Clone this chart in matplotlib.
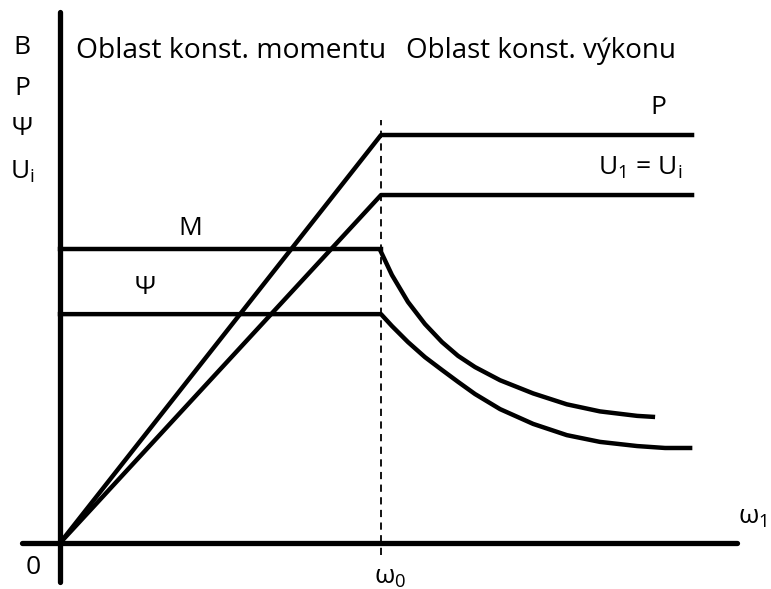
import matplotlib
matplotlib.use("Agg")
import matplotlib.pyplot as plt

plt.rcParams['font.family'] = ['Open Sans', 'DejaVu Sans']
plt.rcParams['mathtext.fontset'] = 'custom'
plt.rcParams['mathtext.rm'] = 'Open Sans'

# ---- data (x in units of omega_0, y in relative units) ----
omega0 = 1.0
x_end = 1.969
P_level = 1.271
U_level = 1.084
M_level = 0.916
Psi_level = 0.713

M_curve_x = [1.000, 1.034, 1.084, 1.137, 1.190, 1.240, 1.293, 1.371, 1.474,
             1.579, 1.682, 1.798, 1.847]
M_curve_y = [0.907, 0.835, 0.751, 0.682, 0.626, 0.583, 0.548, 0.507, 0.466,
             0.432, 0.410, 0.396, 0.393]
Psi_curve_x = [1.000, 1.034, 1.084, 1.137, 1.190, 1.240, 1.293, 1.371, 1.474,
               1.579, 1.682, 1.798, 1.885, 1.963]
Psi_curve_y = [0.713, 0.676, 0.626, 0.579, 0.539, 0.502, 0.464, 0.417, 0.371,
               0.336, 0.315, 0.302, 0.296, 0.296]

# ---- figure ----
W, H = 771, 589
fig = plt.figure(figsize=(W / 100, H / 100), dpi=100)
ax = fig.add_axes([0, 0, 1, 1])
X0, Y0, S = 60, 543, 321  # pixel origin and scale
ax.set_xlim((0 - X0) / S, (W - X0) / S)
ax.set_ylim((Y0 - H) / S, (Y0 - 0) / S)
ax.axis('off')

def P(px, py):
    return (px - X0) / S, (Y0 - py) / S

lw = 3.2
# axes
ax.plot([P(22, 0)[0], P(737, 0)[0]], [0, 0], color='black', lw=3.8, solid_capstyle='round')
ax.plot([0, 0], [P(0, 582)[1], P(0, 12)[1]], color='black', lw=3.8, solid_capstyle='round')
# dashed omega0
ax.plot([omega0, omega0], [P(0, 555)[1], P(0, 120)[1]], color='black', lw=1.3, dashes=(4, 3))

# P and U lines
ax.plot([0, omega0, x_end], [0, P_level, P_level], color='black', lw=lw)
ax.plot([0, omega0, x_end], [0, U_level, U_level], color='black', lw=lw)
# M and Psi
ax.plot([0, omega0], [M_level, M_level], color='black', lw=lw)
ax.plot(M_curve_x, M_curve_y, color='black', lw=lw)
ax.plot([0] + Psi_curve_x, [Psi_level] + Psi_curve_y, color='black', lw=lw)

fs = 19
def T(px, py, s, **kw):
    x, y = P(px, py)
    ax.text(x, y, s, ha='center', va='center', fontsize=kw.pop('fontsize', fs), **kw)

T(231, 51, 'Oblast konst. momentu', fontsize=20.3)
T(541, 51, 'Oblast konst. výkonu', fontsize=20)
T(22, 47, 'B')
T(22, 88, 'P')
T(22, 128, 'Ψ')
T(22, 172, 'U$_{\\mathregular{i}}$')
T(190, 228, 'M')
T(145, 287, 'Ψ')
T(658, 107, 'P')
T(640, 168, 'U$_{\\mathregular{1}}$ = U$_{\\mathregular{i}}$')
T(753, 517, 'ω$_{\\mathregular{1}}$')
T(33, 568, '0')
T(390, 578, 'ω$_{\\mathregular{0}}$')

fig.savefig('out.png', dpi=100)
